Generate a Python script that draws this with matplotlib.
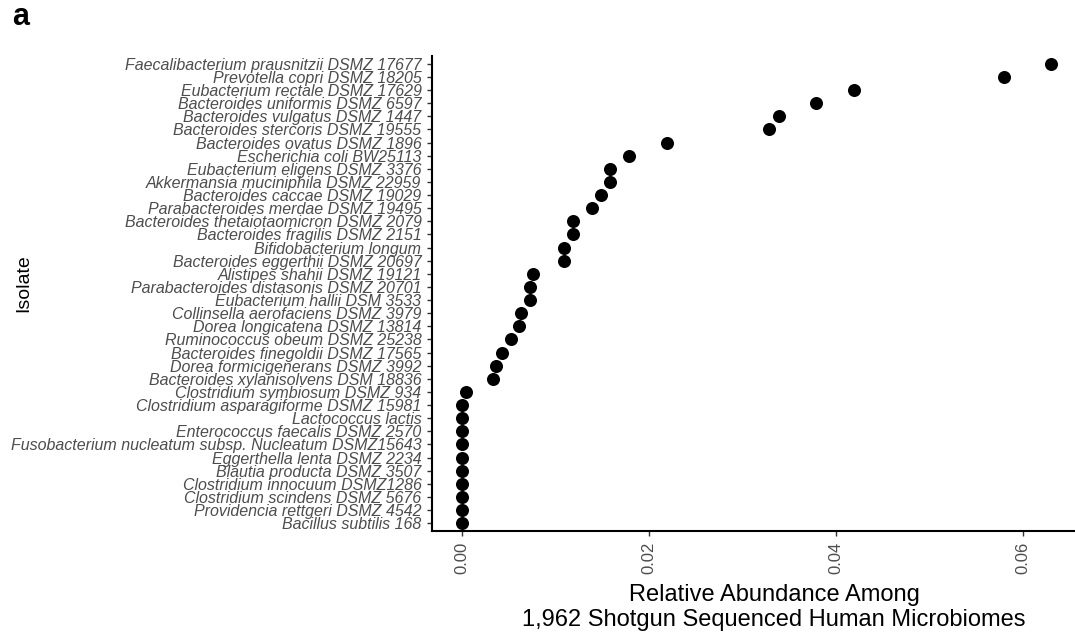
import numpy as np
import matplotlib
matplotlib.use('Agg')
import matplotlib.pyplot as plt

plt.rcParams['font.family'] = ['Liberation Sans', 'DejaVu Sans']

# isolates, top to bottom
isolates = [
    'Faecalibacterium prausnitzii DSMZ 17677',
    'Prevotella copri DSMZ 18205',
    'Eubacterium rectale DSMZ 17629',
    'Bacteroides uniformis DSMZ 6597',
    'Bacteroides vulgatus DSMZ 1447',
    'Bacteroides stercoris DSMZ 19555',
    'Bacteroides ovatus DSMZ 1896',
    'Escherichia coli BW25113',
    'Eubacterium eligens DSMZ 3376',
    'Akkermansia muciniphila DSMZ 22959',
    'Bacteroides caccae DSMZ 19029',
    'Parabacteroides merdae DSMZ 19495',
    'Bacteroides thetaiotaomicron DSMZ 2079',
    'Bacteroides fragilis DSMZ 2151',
    'Bifidobacterium longum',
    'Bacteroides eggerthii DSMZ 20697',
    'Alistipes shahii DSMZ 19121',
    'Parabacteroides distasonis DSMZ 20701',
    'Eubacterium hallii DSM 3533',
    'Collinsella aerofaciens DSMZ 3979',
    'Dorea longicatena DSMZ 13814',
    'Ruminococcus obeum DSMZ 25238',
    'Bacteroides finegoldii DSMZ 17565',
    'Dorea formicigenerans DSMZ 3992',
    'Bacteroides xylanisolvens DSM 18836',
    'Clostridium symbiosum DSMZ 934',
    'Clostridium asparagiforme DSMZ 15981',
    'Lactococcus lactis',
    'Enterococcus faecalis DSMZ 2570',
    'Fusobacterium nucleatum subsp. Nucleatum DSMZ15643',
    'Eggerthella lenta DSMZ 2234',
    'Blautia producta DSMZ 3507',
    'Clostridium innocuum DSMZ1286',
    'Clostridium scindens DSMZ 5676',
    'Providencia rettgeri DSMZ 4542',
    'Bacillus subtilis 168',
]

abundance = [
    0.0630, 0.0580, 0.0419, 0.0379, 0.0339, 0.0329, 0.0219, 0.0179,
    0.0158, 0.0158, 0.0149, 0.0139, 0.0119, 0.0119, 0.0109, 0.0109,
    0.0076, 0.0073, 0.0073, 0.0063, 0.0061, 0.0052, 0.0043, 0.0037,
    0.0033, 0.0004, 0.0, 0.0, 0.0, 0.0, 0.0, 0.0, 0.0, 0.0, 0.0, 0.0,
]

xticks = [0.00, 0.02, 0.04, 0.06]
xticklabels = ['0.00', '0.02', '0.04', '0.06']

fig = plt.figure(figsize=(10.75, 6.38), dpi=100)
ax = fig.add_axes([432 / 1075, (638 - 531) / 638, 1 - 432 / 1075, (531 - 56) / 638])

ypos = np.arange(len(isolates))
ax.scatter(abundance, ypos, s=88, color='black', zorder=3, linewidths=0)

ax.set_yticks(ypos)
ax.set_yticklabels(isolates, fontsize=11.5, style='italic', color='#4D4D4D')
ax.set_ylim(len(isolates) - 0.4, -0.6)

ax.set_xticks(xticks)
ax.set_xticklabels(xticklabels, rotation=90, fontsize=12, color='#4D4D4D')
ax.set_xlim(-0.0032, 0.0656)

for side in ['top', 'right']:
    ax.spines[side].set_visible(False)
for side in ['left', 'bottom']:
    ax.spines[side].set_linewidth(1.5)
    ax.spines[side].set_color('black')
ax.tick_params(axis='both', length=3.6, width=1.0, color='#333333', pad=4)

ax.set_xlabel('Relative Abundance Among\n1,962 Shotgun Sequenced Human Microbiomes',
              fontsize=17, linespacing=1.2)
ax.xaxis.set_label_coords((774 - 432) / (1075 - 432), -0.111)
ax.xaxis.label.set_va('top')

fig.text(24 / 1075, 1 - 283 / 638, 'Isolate', rotation=90, fontsize=14,
         ha='center', va='center')
fig.text(12 / 1075, 1 - 25 / 638, 'a', fontsize=22, fontweight='bold',
         ha='left', va='baseline')

fig.savefig('out.png', dpi=100)
